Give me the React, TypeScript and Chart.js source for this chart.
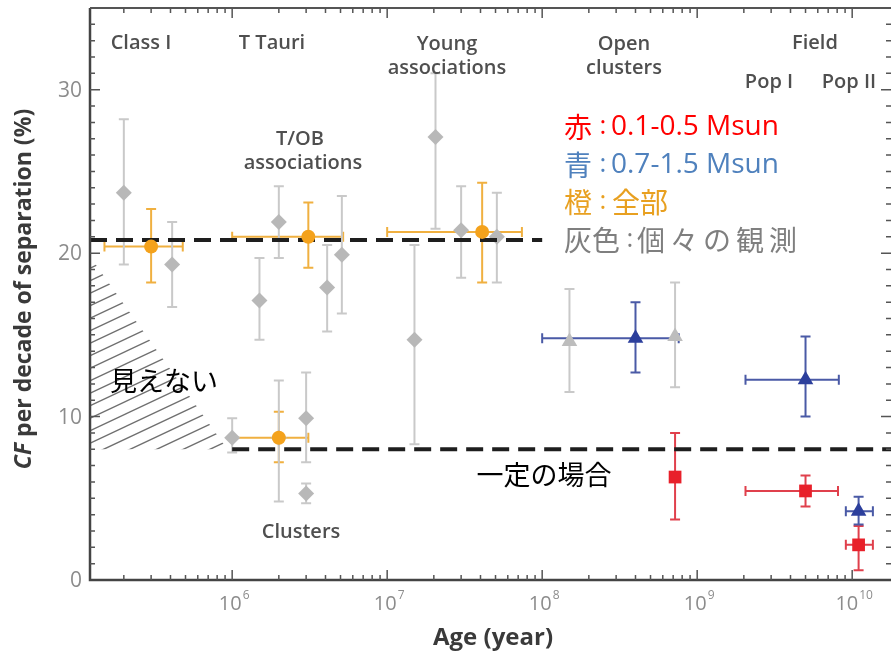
import React, { useEffect, useRef } from "react";
import { Chart, registerables } from "chart.js";

Chart.register(...registerables);

// Axis ranges
const AGE_MIN = 1.21e5;
const AGE_MAX = 1.78e10;
const CF_MIN = 0;
const CF_MAX = 35;

// Individual observations (grey diamonds)
const obsAge = [2.0e5, 4.1e5, 1.5e6, 2.0e6, 4.1e6, 5.1e6, 1.5e7, 2.05e7, 3.0e7, 5.1e7, 1.0e6, 2.0e6, 3.0e6, 3.0e6];
const obsCF = [23.7, 19.3, 17.1, 21.9, 17.9, 19.9, 14.7, 27.1, 21.4, 21.0, 8.7, 8.7, 9.9, 5.3];
const obsHi = [28.2, 21.9, 19.7, 24.1, 20.5, 23.5, 20.5, 31.0, 24.1, 23.7, 9.9, 12.2, 12.7, 5.9];
const obsLo = [19.3, 16.7, 14.7, 19.7, 15.2, 16.3, 8.3, 21.5, 18.5, 18.2, 7.8, 4.8, 7.2, 4.7];

// Individual open-cluster observations (grey triangles)
const ocAge = [1.5e8, 7.2e8];
const ocCF = [14.6, 14.9];
const ocHi = [17.8, 18.2];
const ocLo = [11.5, 11.8];

// All masses (orange)
const allAge = [3.0e5, 3.1e6, 4.1e7, 2.0e6];
const allCF = [20.4, 21.0, 21.3, 8.7];
const allHi = [22.7, 23.1, 24.3, 10.3];
const allLo = [18.2, 19.1, 18.2, 7.2];
const allAgeLo = [1.5e5, 1.0e6, 1.0e7, 1.0e6];
const allAgeHi = [4.8e5, 5.2e6, 7.4e7, 3.1e6];

// 0.7-1.5 Msun (blue)
const solarAge = [4.0e8, 5.0e9, 1.1e10];
const solarCF = [14.8, 12.25, 4.2];
const solarHi = [17.0, 14.9, 5.1];
const solarLo = [12.7, 10.0, 3.4];
const solarAgeLo = [1.0e8, 2.05e9, 9.1e9];
const solarAgeHi = [7.6e8, 8.2e9, 1.36e10];

// 0.1-0.5 Msun (red)
const lowAge = [7.2e8, 5.0e9, 1.1e10];
const lowCF = [6.3, 5.45, 2.15];
const lowHi = [9.0, 6.4, 3.3];
const lowLo = [3.7, 4.5, 0.6];
const lowAgeLo = [7.2e8, 2.05e9, 9.1e9];
const lowAgeHi = [7.2e8, 8.1e9, 1.36e10];

// Reference levels (dashed)
const youngLevelAge = [AGE_MIN, 1.0e8];
const youngLevelCF = [20.8, 20.8];
const constLevelAge = [1.0e6, AGE_MAX];
const constLevelCF = [8.0, 8.0];

// Unobservable region (hatched)
const hiddenAge = [AGE_MIN, AGE_MIN, 9.3e5];
const hiddenCF = [19.8, 8.0, 8.0];

// Tick labels
const yTickValues = [0, 10, 20, 30];
const xTickExponents = [6, 7, 8, 9, 10];

const pts = (xs: number[], ys: number[]) => xs.map((x, i) => ({ x, y: ys[i] }));

const LABEL_FONT = '"Open Sans", sans-serif';
const JP_FONT = '"Noto Sans CJK JP", sans-serif';

const decorations = {
  id: "decorations",
  beforeDatasetsDraw(chart: any) {
    const { ctx, chartArea: a, scales } = chart;
    const xs = scales.x, ys = scales.y;

    // hatched region
    ctx.save();
    ctx.beginPath();
    hiddenAge.forEach((v, i) => {
      const px = xs.getPixelForValue(v), py = ys.getPixelForValue(hiddenCF[i]);
      if (i === 0) ctx.moveTo(px, py);
      else ctx.lineTo(px, py);
    });
    ctx.closePath();
    ctx.clip();
    ctx.strokeStyle = "#6f6f6f";
    ctx.lineWidth = 1.4;
    const slope = 0.47;
    for (let y0 = a.top; y0 < a.bottom + 400; y0 += 12.5) {
      ctx.beginPath();
      ctx.moveTo(a.left - 5, y0);
      ctx.lineTo(a.left + 400, y0 - slope * 405);
      ctx.stroke();
    }
    ctx.restore();

    // error bars
    chart.data.datasets.forEach((ds: any) => {
      if (!ds.errHi) return;
      ctx.save();
      ctx.strokeStyle = ds.barColor;
      ctx.lineWidth = 2;
      ds.data.forEach((p: any, j: number) => {
        const px = xs.getPixelForValue(p.x);
        const py = ys.getPixelForValue(p.y);
        const t = ys.getPixelForValue(ds.errHi[j]);
        const b = ys.getPixelForValue(ds.errLo[j]);
        ctx.beginPath();
        ctx.moveTo(px, t);
        ctx.lineTo(px, b);
        ctx.moveTo(px - 5, t);
        ctx.lineTo(px + 5, t);
        ctx.moveTo(px - 5, b);
        ctx.lineTo(px + 5, b);
        if (ds.xLo && ds.xLo[j] !== ds.xHi[j]) {
          const l = xs.getPixelForValue(ds.xLo[j]);
          const r = xs.getPixelForValue(ds.xHi[j]);
          ctx.moveTo(l, py);
          ctx.lineTo(r, py);
          ctx.moveTo(l, py - 5);
          ctx.lineTo(l, py + 5);
          ctx.moveTo(r, py - 5);
          ctx.lineTo(r, py + 5);
        }
        ctx.stroke();
      });
      ctx.restore();
    });
  },
  afterDraw(chart: any) {
    const { ctx, chartArea: a, scales } = chart;
    const xs = scales.x, ys = scales.y;
    ctx.save();

    // frame
    ctx.strokeStyle = "#444";
    ctx.lineWidth = 2.5;
    ctx.beginPath();
    ctx.moveTo(a.left, a.top);
    ctx.lineTo(a.left, a.bottom);
    ctx.lineTo(a.right, a.bottom);
    ctx.stroke();
    ctx.lineWidth = 2;
    ctx.strokeStyle = "#555";
    ctx.beginPath();
    ctx.moveTo(a.left, a.top);
    ctx.lineTo(a.right, a.top);
    ctx.stroke();

    // inward ticks
    ctx.lineWidth = 1.5;
    ctx.beginPath();
    for (let v = CF_MIN + 1; v <= CF_MAX; v++) {
      const py = ys.getPixelForValue(v);
      const len = v % 10 === 0 ? 10 : 5;
      ctx.moveTo(a.left, py);
      ctx.lineTo(a.left + len, py);
      ctx.moveTo(a.right, py);
      ctx.lineTo(a.right - len, py);
    }
    for (let e = 5; e <= 10; e++) {
      for (let m = 1; m <= 9; m++) {
        const v = m * Math.pow(10, e);
        if (v < AGE_MIN || v > AGE_MAX) continue;
        const px = xs.getPixelForValue(v);
        const len = m === 1 ? 10 : 5;
        ctx.moveTo(px, a.bottom);
        ctx.lineTo(px, a.bottom - len);
        ctx.moveTo(px, a.top);
        ctx.lineTo(px, a.top + len);
      }
    }
    ctx.stroke();

    // tick labels
    ctx.fillStyle = "#8c8c8c";
    ctx.font = `21px ${LABEL_FONT}`;
    ctx.textAlign = "right";
    ctx.textBaseline = "middle";
    yTickValues.forEach((v) => ctx.fillText(String(v), a.left - 8, ys.getPixelForValue(v) + 1));
    xTickExponents.forEach((e) => {
      const px = xs.getPixelForValue(Math.pow(10, e));
      ctx.font = `20px ${LABEL_FONT}`;
      const wb = ctx.measureText("10").width;
      ctx.font = `12px ${LABEL_FONT}`;
      const we = ctx.measureText(String(e)).width;
      const start = px - (wb + we + 1) / 2 + 2;
      ctx.textAlign = "left";
      ctx.textBaseline = "alphabetic";
      ctx.font = `20px ${LABEL_FONT}`;
      ctx.fillText("10", start, a.bottom + 30);
      ctx.font = `12px ${LABEL_FONT}`;
      ctx.fillText(String(e), start + wb + 1, a.bottom + 19);
    });

    // axis titles
    ctx.fillStyle = "#3a3a3a";
    ctx.textBaseline = "middle";
    ctx.textAlign = "center";
    ctx.font = `bold 24px ${LABEL_FONT}`;
    ctx.fillText("Age (year)", 493, 638);

    ctx.save();
    ctx.translate(24, 289);
    ctx.rotate(-Math.PI / 2);
    const italicFont = `italic bold 23px ${LABEL_FONT}`;
    const boldFont = `bold 23px ${LABEL_FONT}`;
    const rest = " per decade of separation (%)";
    ctx.font = italicFont;
    const w1 = ctx.measureText("CF").width;
    ctx.font = boldFont;
    const w2 = ctx.measureText(rest).width;
    ctx.textAlign = "left";
    ctx.font = italicFont;
    ctx.fillText("CF", -(w1 + w2) / 2, 0);
    ctx.font = boldFont;
    ctx.fillText(rest, -(w1 + w2) / 2 + w1, 0);
    ctx.restore();

    // group labels
    const groups: [string, number, number][] = [
      ["Class I", 141, 43],
      ["T Tauri", 272, 43],
      ["Young", 447, 44],
      ["associations", 447, 68],
      ["Open", 624, 44],
      ["clusters", 624, 68],
      ["Field", 815, 43],
      ["Pop I", 769, 82],
      ["Pop II", 849, 82],
      ["T/OB", 300, 139],
      ["associations", 303, 163],
      ["Clusters", 301, 532],
    ];
    ctx.fillStyle = "#4f4f4f";
    ctx.font = `600 20px ${LABEL_FONT}`;
    ctx.textAlign = "center";
    ctx.textBaseline = "middle";
    groups.forEach(([t, x, y]) => ctx.fillText(t, x, y));

    // Japanese annotations
    ctx.fillStyle = "#000";
    ctx.font = `27px ${JP_FONT}`;
    ctx.fillText("見えない", 164, 381);
    ctx.fillText("一定の場合", 544, 475);

    // colour key: [head, colon x, body, body x, colour, y, latin body]
    const key: [string, number, string, number, string, number, boolean][] = [
      ["赤", 603, "0.1-0.5 Msun", 611, "#ff0000", 127, true],
      ["青", 603, "0.7-1.5 Msun", 611, "#4f81bd", 165, true],
      ["橙", 603, "全部", 612, "#e8a020", 202, false],
      ["灰色", 630, "個々の観測", 637, "#7f7f7f", 240, false],
    ];
    ctx.textAlign = "left";
    key.forEach(([head, cx, body, bx, c, y, latin]) => {
      ctx.fillStyle = c;
      ctx.font = `28px ${JP_FONT}`;
      (ctx as any).letterSpacing = "0px";
      ctx.fillText(head, 564, y);
      ctx.font = `26px ${LABEL_FONT}`;
      ctx.textAlign = "center";
      ctx.fillText(":", cx, y);
      ctx.textAlign = "left";
      if (latin) {
        ctx.font = `28px ${LABEL_FONT}`;
      } else {
        ctx.font = `28px ${JP_FONT}`;
        (ctx as any).letterSpacing = body.length > 2 ? "5px" : "0px";
      }
      ctx.fillText(body, bx, y);
      (ctx as any).letterSpacing = "0px";
    });

    ctx.restore();
  },
};

export default function App() {
  const ref = useRef<HTMLCanvasElement | null>(null);

  useEffect(() => {
    if (!ref.current) return;
    const chart = new Chart(ref.current, {
      type: "scatter",
      data: {
        datasets: [
          {
            label: "0.1-0.5 Msun",
            data: pts(lowAge, lowCF),
            pointStyle: "rect",
            radius: 9,
            backgroundColor: "#e8202a",
            borderColor: "#e8202a",
            borderWidth: 0,
            order: 0,
            errHi: lowHi,
            errLo: lowLo,
            xLo: lowAgeLo,
            xHi: lowAgeHi,
            barColor: "#e0404c",
          } as any,
          {
            label: "0.7-1.5 Msun",
            data: pts(solarAge, solarCF),
            pointStyle: "triangle",
            radius: 9,
            backgroundColor: "#2c3f9c",
            borderColor: "#2c3f9c",
            borderWidth: 0,
            order: 1,
            errHi: solarHi,
            errLo: solarLo,
            xLo: solarAgeLo,
            xHi: solarAgeHi,
            barColor: "#4a5aa6",
          } as any,
          {
            label: "all",
            data: pts(allAge, allCF),
            pointStyle: "circle",
            radius: 7,
            backgroundColor: "#f4a21c",
            borderColor: "#f4a21c",
            borderWidth: 0,
            order: 2,
            errHi: allHi,
            errLo: allLo,
            xLo: allAgeLo,
            xHi: allAgeHi,
            barColor: "#f0b040",
          } as any,
          {
            label: "young level",
            data: pts(youngLevelAge, youngLevelCF),
            showLine: true,
            borderColor: "#1e1e1e",
            borderWidth: 4,
            borderDash: [17, 9],
            pointRadius: 0,
            order: 3,
          } as any,
          {
            label: "constant level",
            data: pts(constLevelAge, constLevelCF),
            showLine: true,
            borderColor: "#1e1e1e",
            borderWidth: 4,
            borderDash: [17, 9],
            pointRadius: 0,
            order: 3,
          } as any,
          {
            label: "open clusters",
            data: pts(ocAge, ocCF),
            pointStyle: "triangle",
            radius: 9,
            backgroundColor: "#bdbdbd",
            borderColor: "#bdbdbd",
            borderWidth: 0,
            order: 4,
            errHi: ocHi,
            errLo: ocLo,
            barColor: "#c9c9c9",
          } as any,
          {
            label: "observations",
            data: pts(obsAge, obsCF),
            pointStyle: "rectRot",
            radius: 8,
            backgroundColor: "#b8b8b8",
            borderColor: "#b8b8b8",
            borderWidth: 0,
            order: 5,
            errHi: obsHi,
            errLo: obsLo,
            barColor: "#c9c9c9",
          } as any,
        ],
      },
      options: {
        animation: false,
        responsive: true,
        maintainAspectRatio: false,
        layout: { autoPadding: false, padding: { top: 8, right: 1, left: 0, bottom: 0 } },
        plugins: {
          legend: { display: false },
          tooltip: { enabled: false },
        },
        scales: {
          x: {
            type: "logarithmic",
            min: AGE_MIN,
            max: AGE_MAX,
            grid: { display: false },
            border: { display: false },
            ticks: { display: false },
            afterFit: (s: any) => {
              s.height = 74;
            },
          },
          y: {
            type: "linear",
            min: CF_MIN,
            max: CF_MAX,
            grid: { display: false },
            border: { display: false },
            ticks: { display: false },
            afterFit: (s: any) => {
              s.width = 90;
            },
          },
        },
      },
      plugins: [decorations],
    });
    return () => chart.destroy();
  }, []);

  return (
    <div style={{ position: "fixed", left: 0, top: 0, width: 892, height: 654, background: "#fff" }}>
      <canvas ref={ref} />
    </div>
  );
}
